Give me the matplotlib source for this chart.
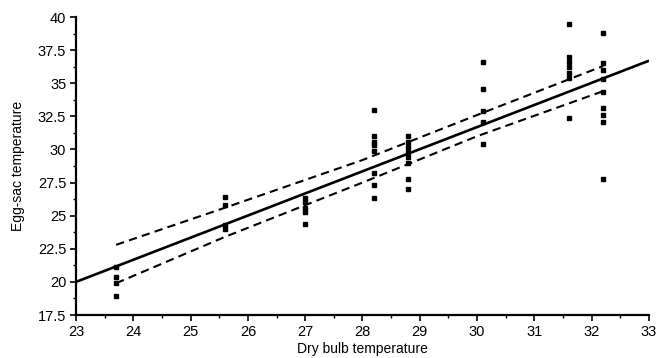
import matplotlib
matplotlib.use('Agg')
import matplotlib.pyplot as plt
import numpy as np
from matplotlib.ticker import MultipleLocator

plt.rcParams['font.family'] = ['Liberation Sans', 'DejaVu Sans']

# ── observed points (dry bulb x, egg-sac y) ───────────────────────────────
col_x = [23.7, 25.6, 27.0, 28.2, 28.8, 30.1, 31.6, 32.2]
col_y = [
    [21.1, 20.4, 19.9, 18.9],
    [26.4, 25.8, 24.3, 24.0],
    [26.3, 26.0, 25.6, 25.3, 24.4],
    [33.0, 31.0, 30.6, 30.3, 29.9, 28.2, 27.3, 26.3],
    [31.0, 30.6, 30.2, 29.8, 29.4, 29.0, 27.8, 27.0],
    [36.6, 34.6, 32.9, 32.1, 30.4],
    [39.5, 37.0, 36.6, 36.2, 35.8, 35.4, 32.4],
    [38.8, 36.5, 36.0, 35.3, 34.3, 33.1, 32.6, 32.1, 27.8],
]

# ── regression line and confidence band ───────────────────────────────────
fit_x = [23, 33]
fit_y = [20.0, 36.7]
band_x = [23.7, 25.6, 28.0, 30.0, 32.2]
band_hi = [22.8, 25.6, 29.2, 32.6, 36.3]
band_lo = [19.9, 23.4, 27.5, 31.0, 34.4]

y_ticks = [17.5, 20, 22.5, 25, 27.5, 30, 32.5, 35, 37.5, 40]
y_labels = ['17.5', '20', '22.5', '25', '27.5', '30', '32.5', '35', '37.5', '40']
x_ticks = list(range(23, 34))

fig = plt.figure(figsize=(6.57, 3.58), dpi=100)
ax = fig.add_axes([0.1157, 0.1201, 0.8721, 0.8324])

xs = np.concatenate([[x] * len(ys) for x, ys in zip(col_x, col_y)])
ys = np.concatenate(col_y)
ax.plot(xs, ys, 's', color='black', ms=3.5, mec='black', zorder=3)

ax.plot(fit_x, fit_y, color='black', lw=1.9, solid_capstyle='butt')
ax.plot(band_x, band_hi, color='black', lw=1.5, dashes=(4, 2.5))
ax.plot(band_x, band_lo, color='black', lw=1.5, dashes=(4, 2.5))

ax.set_xlim(23, 33)
ax.set_ylim(17.5, 40)
ax.set_xticks(x_ticks)
ax.set_xticklabels([str(v) for v in x_ticks])
ax.set_yticks(y_ticks)
ax.set_yticklabels(y_labels)
ax.xaxis.set_minor_locator(MultipleLocator(0.5))
ax.yaxis.set_minor_locator(MultipleLocator(1.25))

for s in ['top', 'right']:
    ax.spines[s].set_visible(False)
for s in ['left', 'bottom']:
    ax.spines[s].set_linewidth(1.6)

ax.tick_params(which='major', length=4, width=1.2, labelsize=10.5, pad=3)
ax.tick_params(which='minor', length=2.5, width=1.0)

ax.set_xlabel('Dry bulb temperature', fontsize=10, labelpad=2)
ax.set_ylabel('Egg-sac temperature', fontsize=10, labelpad=9)

fig.savefig('out.png', dpi=100)
plt.close(fig)
